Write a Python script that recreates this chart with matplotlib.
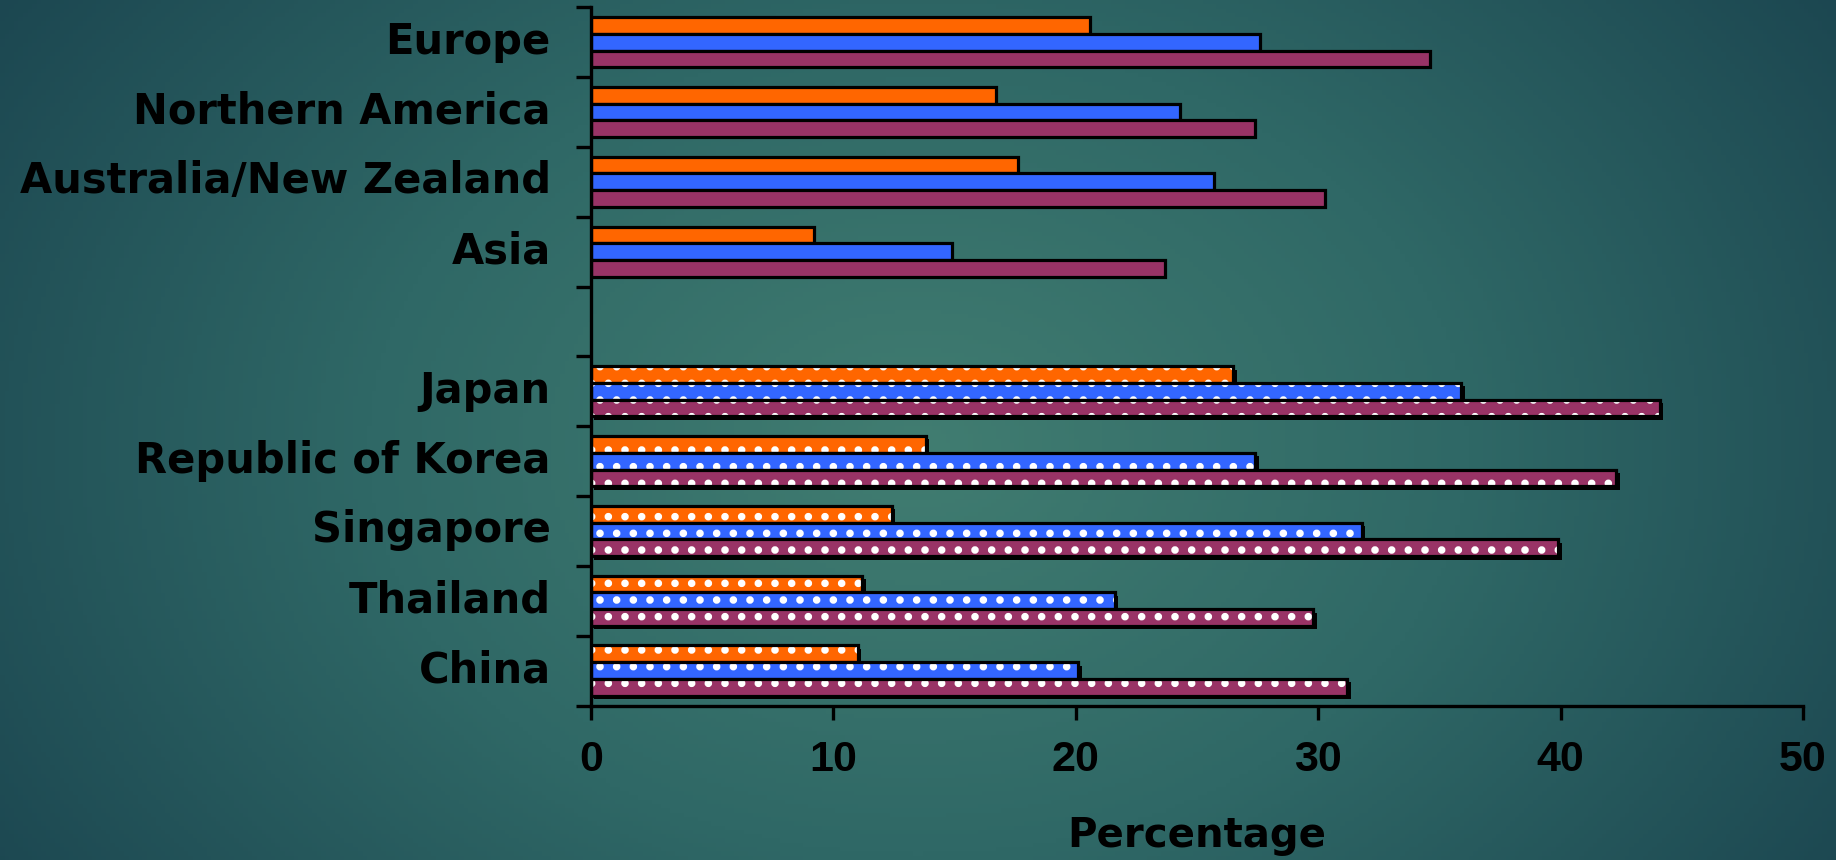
# %%
"""
老龄人口比例横向条形图（地区 / 国家）
"""

import matplotlib.pyplot as plt
import matplotlib.patheffects as pe
import numpy as np
from matplotlib.colors import LinearSegmentedColormap
from matplotlib.transforms import ScaledTranslation

# %%
# 输入数据
regions = ['Europe', 'Northern America', 'Australia/New Zealand', 'Asia']
region_orange = [20.6, 16.7, 17.6, 9.2]
region_blue = [27.6, 24.3, 25.7, 14.9]
region_purple = [34.6, 27.4, 30.3, 23.7]

countries = ['Japan', 'Republic of Korea', 'Singapore', 'Thailand', 'China']
country_orange = [26.5, 13.8, 12.4, 11.2, 11.0]
country_blue = [35.9, 27.4, 31.8, 21.6, 20.1]
country_purple = [44.1, 42.3, 39.9, 29.8, 31.2]

x_ticks = [0, 10, 20, 30, 40, 50]
x_label = 'Percentage'

# %%
# 颜色与字体
c_orange = '#FF6600'
c_blue = '#3366FF'
c_purple = '#993366'
plt.rcParams['font.family'] = ['Liberation Sans', 'DejaVu Sans']
plt.rcParams['hatch.linewidth'] = 3.0
label_font = 'DejaVu Sans'  # 字宽较大，接近原图的字距

fig = plt.figure(figsize=(18.36, 8.6), dpi=100)

# 背景渐变
bg = fig.add_axes([0, 0, 1, 1], zorder=-10)
gx, gy = np.meshgrid(np.linspace(0, 1, 400), np.linspace(0, 1, 200))
dist = np.sqrt(((gx - 0.5) / 0.6) ** 2 + ((gy - 0.52) / 0.95) ** 2)
cmap = LinearSegmentedColormap.from_list('bg', ['#417d71', '#2f6866', '#1c4751'])
bg.imshow(np.clip(dist, 0, 1), cmap=cmap, vmin=0, vmax=1, aspect='auto',
          extent=[0, 1, 0, 1], origin='upper')
bg.set_xlim(0, 1)
bg.set_ylim(0, 1)
bg.axis('off')

# 主坐标轴
W, H = 1836, 860
ax = fig.add_axes([591 / W, 1 - 705.5 / H, (1803 - 591) / W, (705.5 - 7.3) / H])
ax.patch.set_alpha(0)

h = 0.24
lw = 2.3
region_pos = np.arange(len(regions))
country_pos = np.arange(len(countries)) + len(regions) + 1

# 地区：纯色条
for off, vals, col in zip([-h, 0, h], [region_orange, region_blue, region_purple],
                          [c_orange, c_blue, c_purple]):
    ax.barh(region_pos + off, vals, height=h, color=col, edgecolor='black', linewidth=lw)

# 国家：带点状填充和阴影
shadow = [pe.SimplePatchShadow(offset=(2.5, -2.5), shadow_rgbFace='black', alpha=1), pe.Normal()]
for off, vals, col in zip([-h, 0, h], [country_orange, country_blue, country_purple],
                          [c_orange, c_blue, c_purple]):
    ax.barh(country_pos + off, vals, height=h, color='black', linewidth=0, path_effects=shadow)
    ax.barh(country_pos + off, vals, height=h, color=col, edgecolor='white', linewidth=0, hatch='.')
    ax.barh(country_pos + off, vals, height=h, fill=False, edgecolor='black', linewidth=lw)

n_slots = len(regions) + 1 + len(countries)
ax.set_ylim(n_slots - 0.5, -0.5)
ax.set_xlim(0, 50)

# 刻度
ax.set_yticks(np.arange(-0.5, n_slots, 1))
ax.set_yticklabels([])
ax.set_yticks(np.concatenate([region_pos, country_pos]), minor=True)
ax.set_yticklabels(regions + countries, minor=True, fontsize=30, fontweight='bold',
                   family=label_font)
ax.tick_params(axis='y', which='major', length=11, width=2.4, direction='out')
ax.tick_params(axis='y', which='minor', length=0, pad=29)
for lab in ax.get_yticklabels(minor=True):
    lab.set_transform(lab.get_transform() + ScaledTranslation(0, 5 / 100, fig.dpi_scale_trans))

ax.set_xticks(x_ticks)
ax.set_xticklabels([str(t) for t in x_ticks], fontsize=31, fontweight='bold')
ax.tick_params(axis='x', length=10, width=2.4, direction='out', pad=15)
ax.set_xlabel(x_label, fontsize=29, fontweight='bold', family=label_font, labelpad=26)

for side in ['top', 'right']:
    ax.spines[side].set_visible(False)
for side in ['left', 'bottom']:
    ax.spines[side].set_linewidth(2.4)
    ax.spines[side].set_color('black')

plt.savefig('out.png', dpi=100)
